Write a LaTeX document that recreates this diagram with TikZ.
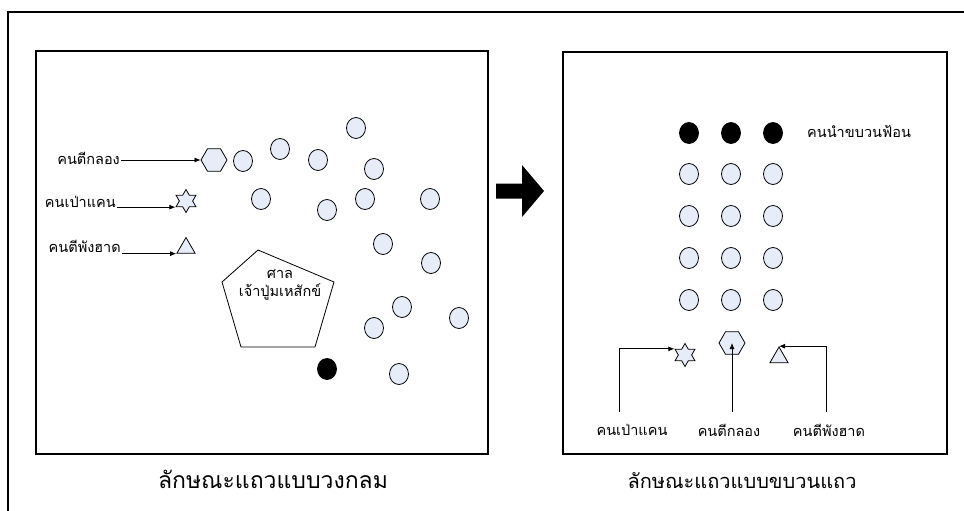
\documentclass[tikz,border=0pt]{standalone}
\usepackage{fontspec}
\newfontfamily\thaifont[Script=Thai]{Loma}
\usetikzlibrary{shapes.geometric,arrows.meta}
\definecolor{dancerfill}{RGB}{230,236,248}

\begin{document}
\begin{tikzpicture}[x=1pt,y=-1pt,
  dancer/.style={ellipse,draw,line width=0.8pt,fill=dancerfill,
    minimum width=19pt,minimum height=21pt,inner sep=0pt},
  leader/.style={dancer,fill=black},
  drum/.style={regular polygon,regular polygon sides=6,draw,fill=dancerfill,
    minimum size=26pt,inner sep=0pt,line width=0.8pt},
  khaen/.style={star,star points=6,star point ratio=1.73,draw,fill=dancerfill,
    minimum size=23pt,inner sep=0pt,line width=0.8pt},
  gong/.style={regular polygon,regular polygon sides=3,draw,fill=dancerfill,
    minimum size=21pt,inner sep=0pt,line width=0.8pt},
  lbl/.style={font=\thaifont\fontsize{14.5}{17}\selectfont,inner sep=1pt},
  shrinetext/.style={font=\thaifont\fontsize{14.5}{18}\selectfont,inner sep=1pt},
  title/.style={font=\thaifont\fontsize{23}{26}\selectfont,inner sep=1pt},
  arr/.style={-{Latex[length=6pt,width=5pt]},line width=0.8pt},
  panel/.style={draw,line width=2.5pt}
]
\useasboundingbox (0,0) rectangle (964,511);

% outer frame (only top and left edges fall inside the page)
\draw[line width=2.5pt] (8,520) -- (8,12) -- (975,12);

% the two panels
\draw[panel] (36,51) rectangle (488,454);
\draw[panel] (563,52) rectangle (947,454);

% block arrow between the panels
\fill (496,183.5) -- (522,183.5) -- (522,165) -- (544,191) -- (522,217)
      -- (522,198.5) -- (496,198.5) -- cycle;

% ---------- circular formation ----------
\node[drum]  (hexL)  at (214,160) {};
\node[khaen] (starL) at (186,201) {};
\node[gong]  (triL)  at (186,248) {};

\node[lbl,anchor=east] (lblA) at (121,158) {คนตีกลอง};
\node[lbl,anchor=east] (lblB) at (117,202) {คนเป่าแคน};
\node[lbl,anchor=east] (lblC) at (122,246) {คนตีพังฮาด};

\draw[arr] (lblA.east |- hexL.west) -- (hexL.west);
\draw[arr] (lblB.east |- starL.210) -- (starL.210);
\draw[arr] (lblC.east |- triL.corner 2) -- (triL.corner 2);

\foreach \x/\y [count=\i] in {243/161, 280/149, 318/160, 356/128, 374/169,
    261/199, 327/210, 365/199, 430/199, 383/244, 431/263, 402/307,
    374/328, 459/318, 399/374}
  \node[dancer] (c\i) at (\x,\y) {};
\node[leader] (cL) at (327,369) {};

\draw[line width=0.8pt] (258,250) coordinate (p1) -- (334,282) coordinate (p2)
  -- (315,347) coordinate (p3) -- (241,347) coordinate (p4)
  -- (222,282) coordinate (p5) -- cycle;
\node[shrinetext,align=center] (shrine) at (280,285)
  {ศาล\\เจ้าปู่มเหสักข์};

\node[title] (titleL) at (273,479) {ลักษณะแถวแบบวงกลม};

% ---------- procession formation ----------
\foreach \x [count=\j] in {689,731,773} {
  \node[leader] (k\j) at (\x,133) {};
  \foreach \y [count=\r] in {174,216,258,300}
    \node[dancer] (d\j\r) at (\x,\y) {};
}
\node[lbl,anchor=west] (lead) at (806,131) {คนนำขบวนฟ้อน};

\node[khaen] (starR) at (685,355) {};
\node[drum]  (hexR)  at (732,343) {};
\node[gong]  (triR)  at (779,357.5) {};

\node[lbl] (lblR1) at (632,430) {คนเป่าแคน};
\node[lbl] (lblR2) at (729,430) {คนตีกลอง};
\node[lbl] (lblR3) at (829,430) {คนตีพังฮาด};

\coordinate (b1) at (619,412);
\coordinate (b2) at (732,412);
\coordinate (b3) at (826,412);
\draw[arr] (b1) |- (starR.150);
\draw[arr] (b2) -- (hexR.center);
\draw[arr] (b3) |- (triR.corner 1);

\node[title,font=\thaifont\fontsize{20}{24}\selectfont] (titleR) at (742,481)
  {ลักษณะแถวแบบขบวนแถว};
\end{tikzpicture}
\end{document}
